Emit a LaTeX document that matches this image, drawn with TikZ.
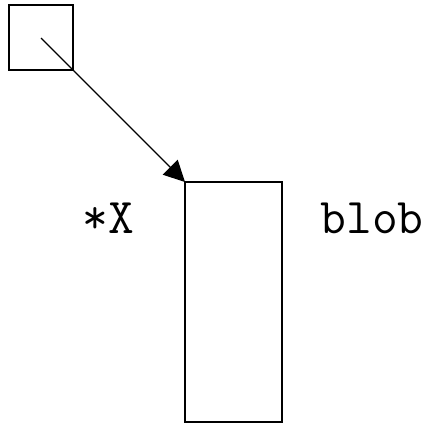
\documentclass[tikz,border=0pt]{standalone}
\usetikzlibrary{arrows.meta}
\begin{document}
\begin{tikzpicture}[x=1pt,y=-1pt,
  box/.style={draw,line width=1.2pt},
  lbl/.style={font=\ttfamily\fontsize{50}{54}\selectfont,anchor=base,inner sep=0pt},
  conn/.style={line width=1.2pt,-{Triangle[length=21pt,width=21pt]}}]
\useasboundingbox (0,0) rectangle (432,424);
\draw[box] (9,5) rectangle (73,70);
\coordinate (s) at (41,38);
\draw[box] (185,182) rectangle (282,422);
\coordinate (t) at (185,182);
\draw[conn] (s) -- (t);
\node[lbl] (x) at (108,233) {*X};
\node[lbl] (b) at (372,233) {blob};
\end{tikzpicture}
\end{document}
